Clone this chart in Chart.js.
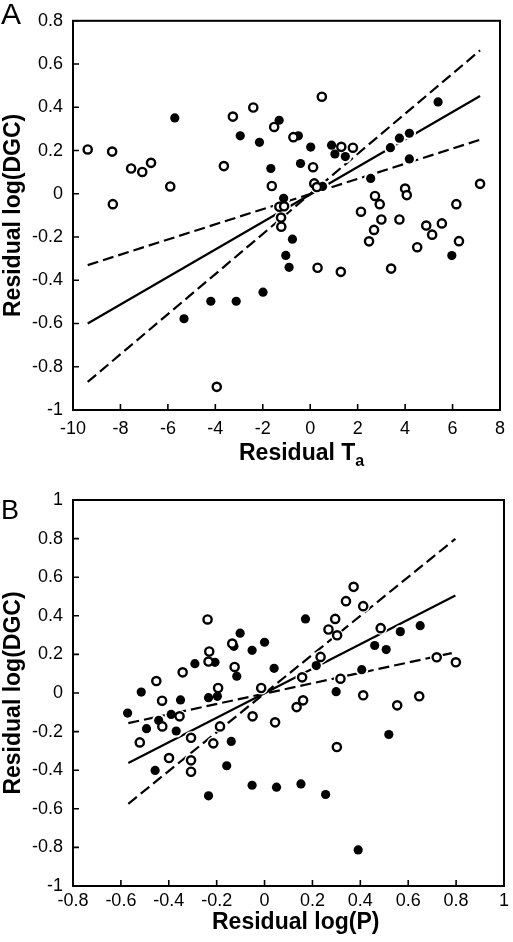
<!DOCTYPE html>
<html>
<head>
<meta charset="utf-8">
<script src="https://cdn.jsdelivr.net/npm/chart.js@4.4.1/dist/chart.umd.min.js"></script>
<style>
    body { margin: 0; background: #fff; width: 513px; height: 942px; position: relative; overflow: hidden;
           font-family: "Liberation Sans", Arial, sans-serif; }
    .wrap { position: absolute; left: 0; width: 513px; }
    #wa { top: 0; height: 470px; }
    #wb { top: 470px; height: 472px; }
    .lbl { position: absolute; line-height: 1; color: #000; white-space: nowrap; }
    .xt { font-size: 23px; font-weight: bold; }
    .xt sub { font-size: 16px; vertical-align: baseline; position: relative; top: 6px; }
</style>
</head>
<body>
<div class="wrap" id="wa"><canvas id="chartA"></canvas></div>
<div class="wrap" id="wb"><canvas id="chartB"></canvas></div>
<div class="lbl" style="left:1px;top:-1px;font-size:30px">A</div>
<div class="lbl" style="left:1px;top:497px;font-size:27px">B</div>
<div class="lbl xt" style="left:239px;top:441px">Residual T<sub>a</sub></div>
<div class="lbl xt" style="left:212px;top:910px">Residual log(P)</div>

<script>
// ── Panel A: residual Ta vs residual log(DGC) ─────────────────
const aOpenX = [-9.38, -8.35, -8.32, -7.55, -7.08, -6.71, -5.90, -3.64, -3.26, -2.40, -1.52, -1.62,
    -0.71, 0.12, 0.49, 0.17, 0.28, 1.31, 1.80, -1.30, -1.10, -1.23, -1.22, 2.14, 2.73, 2.93, 3.00,
    2.69, 2.48, 3.76, 4.00, 4.07, 4.51, 4.89, 5.14, 5.55, 6.16, 6.27, 7.16, 0.31, 1.29, 3.41, -3.94];
const aOpenY = [0.205, 0.195, -0.048, 0.117, 0.101, 0.143, 0.034, 0.128, 0.357, 0.399, 0.309, 0.036,
    0.262, 0.123, 0.449, 0.048, 0.031, 0.217, 0.213, -0.060, -0.058, -0.110, -0.152, -0.083, -0.010, -0.048, -0.119,
    -0.167, -0.220, -0.119, 0.024, -0.006, -0.247, -0.147, -0.189, -0.137, -0.048, -0.219, 0.046, -0.342, -0.361, -0.346, -0.893];
const aFilledX = [-5.71, -2.95, -2.14, -1.31, -1.66, -0.50, 0.02, -0.41, 0.90, 1.04, 1.48, 0.52, -1.12, 2.55,
    3.38, 3.76, 4.18, 4.18, 5.39, -0.75, -1.03, -0.89, -1.99, -3.12, -4.19, -5.32, 5.97];
const aFilledY = [0.351, 0.268, 0.238, 0.340, 0.117, 0.268, 0.216, 0.140, 0.225, 0.184, 0.172, 0.034, -0.021, 0.071,
    0.213, 0.257, 0.280, 0.161, 0.425, -0.210, -0.285, -0.340, -0.455, -0.497, -0.497, -0.578, -0.286];
const aFitX     = [-9.38, 7.16];
const aFitMid   = [-0.600, 0.452];
const aFitSteep = [-0.870, 0.663];
const aFitFlat  = [-0.330, 0.250];
const aXTicks = [-10, -8, -6, -4, -2, 0, 2, 4, 6, 8];
const aYTicks = [-1, -0.8, -0.6, -0.4, -0.2, 0, 0.2, 0.4, 0.6, 0.8];

// ── Panel B: residual log(P) vs residual log(DGC) ─────────────
const bOpenX = [-0.238, -0.452, -0.342, -0.231, -0.234, -0.194, -0.135, -0.125, -0.014, -0.428, 0.157, 0.161,
    0.134, 0.234, 0.267, 0.295, 0.303, 0.340, 0.372, 0.412, 0.317, 0.412, 0.485, 0.554, 0.646, 0.719, 0.799,
    -0.355, -0.521, -0.399, -0.307, -0.307, -0.307, -0.186, -0.214, -0.050, 0.044, 0.302, -0.427];
const bOpenY = [0.381, 0.062, 0.107, 0.215, 0.163, 0.026, 0.256, 0.135, 0.026, -0.040, 0.081, -0.038,
    -0.073, 0.187, 0.329, 0.384, 0.299, 0.476, 0.550, 0.450, 0.074, -0.012, 0.336, -0.064, -0.017, 0.185, 0.159,
    -0.121, -0.256, -0.337, -0.232, -0.349, -0.408, -0.173, -0.261, -0.121, -0.152, -0.280, -0.173];
const bFilledX = [-0.515, -0.291, -0.351, -0.234, -0.197, -0.207, -0.102, -0.128, -0.116, -0.052, 0.000, 0.040,
    0.171, 0.216, 0.299, 0.406, 0.460, 0.508, 0.567, 0.650, -0.572, -0.442, -0.493, -0.390, -0.369, -0.457,
    -0.139, -0.158, -0.234, -0.052, 0.050, 0.152, 0.255, 0.519, 0.391];
const bFilledY = [0.005, 0.152, -0.036, -0.024, -0.017, 0.159, 0.310, 0.242, 0.087, 0.221, 0.263, 0.128,
    0.384, 0.142, 0.007, 0.121, 0.246, 0.225, 0.318, 0.349, -0.104, -0.142, -0.185, -0.111, -0.197, -0.401,
    -0.251, -0.377, -0.533, -0.478, -0.488, -0.471, -0.526, -0.215, -0.813];
const bFitX     = [-0.569, 0.797];
const bFitMid   = [-0.363, 0.505];
const bFitSteep = [-0.574, 0.799];
const bFitFlat  = [-0.156, 0.211];
const bXTicks = [-0.8, -0.6, -0.4, -0.2, 0, 0.2, 0.4, 0.6, 0.8, 1];
const bYTicks = [-1, -0.8, -0.6, -0.4, -0.2, 0, 0.2, 0.4, 0.6, 0.8, 1];

Chart.defaults.font.family = "'Liberation Sans', Arial, sans-serif";
Chart.defaults.color = '#000';
Chart.defaults.animation = false;

const pts = (xs, ys) => xs.map((x, i) => ({ x, y: ys[i] }));
const fmt = v => String(+v.toFixed(1));

// box around plot + short inward tick marks
const framePlugin = {
    id: 'frame',
    afterDraw(chart) {
        const { ctx, chartArea: a, scales: { x, y } } = chart;
        ctx.save();
        ctx.strokeStyle = '#000';
        ctx.lineWidth = 2;
        ctx.strokeRect(a.left, a.top, a.right - a.left, a.bottom - a.top);
        ctx.lineWidth = 1.6;
        ctx.beginPath();
        x.ticks.forEach(t => {
            const px = x.getPixelForValue(t.value);
            ctx.moveTo(px, a.bottom); ctx.lineTo(px, a.bottom - 6);
        });
        y.ticks.forEach(t => {
            const py = y.getPixelForValue(t.value);
            ctx.moveTo(a.left, py); ctx.lineTo(a.left + 6, py);
        });
        ctx.stroke();
        ctx.restore();
    }
};

function fitLine(xs, ys, dashed) {
    return {
        data: pts(xs, ys), showLine: true, pointRadius: 0, borderColor: '#000',
        borderWidth: 2.2, borderDash: dashed ? [11, 5] : [], order: 3,
    };
}

function build(id, p) {
    const halo = pts(p.openX, p.openY).concat(pts(p.filledX, p.filledY));
    return new Chart(document.getElementById(id), {
        type: 'scatter',
        data: {
            datasets: [
                { data: pts(p.openX, p.openY), pointRadius: 4.1, pointBorderWidth: 2.4,
                    pointBackgroundColor: '#fff', pointBorderColor: '#000', order: 0 },
                { data: pts(p.filledX, p.filledY), pointRadius: 4.6, pointBorderWidth: 0,
                    pointBackgroundColor: '#000', order: 1 },
                { data: halo, pointRadius: 6.6, pointBorderWidth: 0,
                    pointBackgroundColor: '#fff', order: 2 },
                fitLine(p.fitX, p.mid, false),
                fitLine(p.fitX, p.steep, true),
                fitLine(p.fitX, p.flat, true),
            ]
        },
        options: {
            responsive: true, maintainAspectRatio: false, devicePixelRatio: 1, events: [],
            layout: { padding: { left: 0, right: 4, top: p.top, bottom: 0 } },
            plugins: { legend: { display: false }, tooltip: { enabled: false } },
            scales: {
                x: {
                    min: p.xTicks[0], max: p.xTicks[p.xTicks.length - 1],
                    grid: { display: false, drawTicks: false }, border: { display: false },
                    afterBuildTicks: s => { s.ticks = p.xTicks.map(v => ({ value: v })); },
                    afterFit: s => { s.height = p.xH; },
                    ticks: { font: { size: 18 }, padding: p.xPad, maxRotation: 0, autoSkip: false, callback: fmt },
                },
                y: {
                    min: p.yTicks[0], max: p.yTicks[p.yTicks.length - 1],
                    grid: { display: false, drawTicks: false }, border: { display: false },
                    afterBuildTicks: s => { s.ticks = p.yTicks.map(v => ({ value: v })); },
                    afterFit: s => { s.width = 73; },
                    ticks: { font: { size: 18 }, padding: 10, autoSkip: false, callback: fmt },
                    title: { display: true, text: 'Residual log(DGC)', padding: 0,
                        font: { size: 23, weight: 'bold' } },
                },
            }
        },
        plugins: [framePlugin]
    });
}

build('chartA', { openX: aOpenX, openY: aOpenY, filledX: aFilledX, filledY: aFilledY,
    fitX: aFitX, mid: aFitMid, steep: aFitSteep, flat: aFitFlat,
    xTicks: aXTicks, yTicks: aYTicks, top: 6, xH: 60, xPad: 8 });

build('chartB', { openX: bOpenX, openY: bOpenY, filledX: bFilledX, filledY: bFilledY,
    fitX: bFitX, mid: bFitMid, steep: bFitSteep, flat: bFitFlat,
    xTicks: bXTicks, yTicks: bYTicks, top: 30, xH: 56, xPad: 4 });
</script>
</body>
</html>
